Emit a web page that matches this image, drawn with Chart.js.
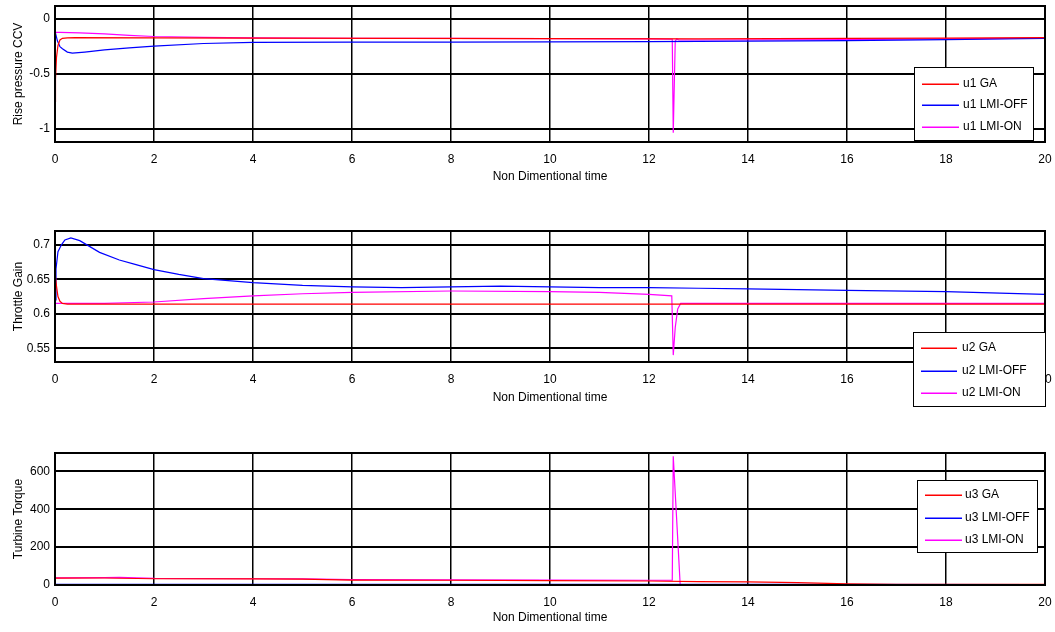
<!DOCTYPE html>
<html>
<head>
<meta charset="utf-8">
<script src="https://cdn.jsdelivr.net/npm/chart.js@4.4.1/dist/chart.umd.min.js"></script>
<style>
  body { margin: 0; background: #fff; }
  canvas { position: absolute; left: 0; }
</style>
</head>
<body>
<canvas id="c1" width="1055" height="190" style="top:0px"></canvas>
<canvas id="c2" width="1055" height="221" style="top:190px"></canvas>
<canvas id="c3" width="1055" height="220" style="top:411px"></canvas>
<script>
// axis ticks
const xTicks = [0, 2, 4, 6, 8, 10, 12, 14, 16, 18, 20];
const yTicks1 = [-1, -0.5, 0];
const yTicks2 = [0.55, 0.6, 0.65, 0.7];
const yTicks3 = [0, 200, 400, 600];
const xTitle = 'Non Dimentional time';

// u1 - rise pressure
const u1GA_t = [0, 0.01, 0.03, 0.06, 0.1, 0.15, 0.25, 0.4, 2, 4, 7, 10, 13, 16, 18, 20];
const u1GA_v = [-0.75, -0.55, -0.35, -0.24, -0.19, -0.175, -0.17, -0.168, -0.17, -0.172, -0.176, -0.178, -0.18, -0.176, -0.172, -0.168];
const u1OFF_t = [0, 0.05, 0.1, 0.15, 0.25, 0.35, 0.6, 1, 1.5, 2, 3, 4, 6, 8, 10, 12, 14, 16, 18, 20];
const u1OFF_v = [-0.11, -0.2, -0.25, -0.27, -0.3, -0.31, -0.3, -0.28, -0.262, -0.245, -0.222, -0.212, -0.21, -0.21, -0.208, -0.205, -0.2, -0.195, -0.186, -0.175];
const u1ON_t = [0, 0.004, 0.1, 0.5, 1, 1.5, 2, 3, 4, 6, 8, 10, 12, 12.47, 12.49, 12.53, 12.56, 12.6, 13, 16, 18, 20];
const u1ON_v = [0, -0.12, -0.12, -0.125, -0.135, -0.148, -0.158, -0.166, -0.17, -0.174, -0.176, -0.178, -0.18, -0.183, -1.035, -0.2, -0.18, -0.19, -0.19, -0.186, -0.18, -0.172];

// u2 - throttle gain
const u2GA_t = [0, 0.03, 0.06, 0.1, 0.15, 0.25, 2, 6, 10, 14, 20];
const u2GA_v = [0.66, 0.64, 0.625, 0.618, 0.615, 0.614, 0.614, 0.614, 0.614, 0.614, 0.614];
const u2OFF_t = [0, 0.02, 0.06, 0.13, 0.2, 0.32, 0.5, 0.9, 1.3, 1.6, 2, 2.5, 3, 4, 5, 6, 7, 8, 9, 10, 11, 12, 13, 14, 16, 18, 20];
const u2OFF_v = [0.62, 0.665, 0.69, 0.70, 0.707, 0.71, 0.706, 0.689, 0.678, 0.672, 0.664, 0.657, 0.651, 0.645, 0.641, 0.639, 0.638, 0.639, 0.64, 0.639, 0.638, 0.638, 0.637, 0.636, 0.634, 0.632, 0.628];
const u2ON_t = [0, 1, 2, 3, 4, 5, 6, 8, 10, 11, 12, 12.46, 12.49, 12.53, 12.58, 12.64, 16, 20];
const u2ON_v = [0.615, 0.615, 0.617, 0.622, 0.626, 0.629, 0.631, 0.633, 0.632, 0.631, 0.628, 0.626, 0.54, 0.58, 0.607, 0.615, 0.615, 0.615];

// u3 - turbine torque
const u3GA_t = [0, 1, 2, 4, 5, 6, 8, 10, 12, 13, 14, 15, 16, 17, 20];
const u3GA_v = [36, 37, 33, 32, 31, 26, 25, 23, 21, 18, 16, 13, 6, 4, 3];
const u3OFF_t = [0, 5, 10, 15, 20];
const u3OFF_v = [4, 4, 3, 3, 2];
const u3ON_t = [0, 1, 1.3, 2, 4, 5, 6, 8, 10, 12, 12.47, 12.49, 12.63, 13, 16, 20];
const u3ON_v = [38, 39, 40, 35, 33, 32, 28, 27, 26, 25, 25, 680, 2, 2, 2, 2];

const RED = '#ff0000', BLUE = '#0000ff', MAG = '#ff00ff';
const FONT = { family: "'Liberation Sans', Arial, sans-serif", size: 12 };

function pts(t, v) {
  return t.map((x, i) => ({ x: x, y: v[i] }));
}

// frame round the plot area and a boxed legend inside it
const boxLegend = {
  id: 'boxLegend',
  afterDatasetsDraw(chart, args, opts) {
    const ctx = chart.ctx;
    const a = chart.chartArea;
    ctx.save();
    ctx.strokeStyle = '#000';
    ctx.lineWidth = 2;
    ctx.strokeRect(a.left, a.top, a.right - a.left, a.bottom - a.top);

    ctx.fillStyle = '#fff';
    ctx.fillRect(opts.x, opts.y, opts.w, opts.h);
    ctx.lineWidth = 1;
    ctx.strokeRect(opts.x + 0.5, opts.y + 0.5, opts.w, opts.h);
    ctx.font = '12px ' + FONT.family;
    ctx.textBaseline = 'middle';
    chart.data.datasets.forEach((ds, i) => {
      const y = opts.y + opts.rows[i];
      ctx.fillStyle = ds.borderColor;
      ctx.fillRect(opts.x + opts.l0, y - 0.5, opts.l1 - opts.l0, 1.5);
      ctx.fillStyle = '#000';
      ctx.fillText(ds.label, opts.x + opts.tx, y);
    });
    ctx.restore();
  }
};

function makeChart(id, h, top, bottom, yMin, yMax, yTicks, yTitle, sets, legend) {
  new Chart(document.getElementById(id), {
    type: 'line',
    data: {
      datasets: sets.map(s => ({
        label: s.label,
        data: s.data,
        borderColor: s.color,
        borderWidth: 1.2,
        pointRadius: 0,
        tension: 0,
        fill: false
      }))
    },
    options: {
      responsive: false,
      animation: false,
      layout: { padding: { top: top, right: 10, bottom: 0, left: 0 } },
      plugins: { legend: { display: false }, tooltip: { enabled: false }, boxLegend: legend },
      scales: {
        x: {
          type: 'linear',
          min: 0, max: 20,
          afterBuildTicks: s => { s.ticks = xTicks.map(v => ({ value: v })); },
          afterFit: s => { s.height = h - bottom; s.paddingLeft = 0; s.paddingRight = 0; },
          ticks: { font: FONT, color: '#000', padding: 10, maxRotation: 0, callback: v => String(v) },
          grid: { color: '#000', lineWidth: 1.5, drawTicks: false },
          border: { display: false },
          title: { display: true, text: xTitle, font: FONT, color: '#000', padding: { top: 0, bottom: 6 } }
        },
        y: {
          min: yMin, max: yMax,
          afterBuildTicks: s => { s.ticks = yTicks.map(v => ({ value: v })); },
          afterFit: s => { s.width = 55; s.paddingTop = 0; s.paddingBottom = 0; },
          ticks: { font: FONT, color: '#000', padding: 5, callback: v => String(v) },
          grid: { color: '#000', lineWidth: 2, drawTicks: false },
          border: { display: false },
          title: { display: true, text: yTitle, font: FONT, color: '#000', padding: { top: 11, bottom: 0 } }
        }
      }
    },
    plugins: [boxLegend]
  });
}

makeChart('c1', 190, 6, 142, -1.12, 0.12, yTicks1, 'Rise pressure CCV', [
  { label: 'u1 GA', color: RED, data: pts(u1GA_t, u1GA_v) },
  { label: 'u1 LMI-OFF', color: BLUE, data: pts(u1OFF_t, u1OFF_v) },
  { label: 'u1 LMI-ON', color: MAG, data: pts(u1ON_t, u1ON_v) }
], { x: 914, y: 67, w: 119, h: 73, rows: [17, 38, 60], l0: 8, l1: 45, tx: 49 });

makeChart('c2', 221, 41, 172, 0.53, 0.72, yTicks2, 'Throttle Gain', [
  { label: 'u2 GA', color: RED, data: pts(u2GA_t, u2GA_v) },
  { label: 'u2 LMI-OFF', color: BLUE, data: pts(u2OFF_t, u2OFF_v) },
  { label: 'u2 LMI-ON', color: MAG, data: pts(u2ON_t, u2ON_v) }
], { x: 913, y: 142, w: 132, h: 74, rows: [16, 39, 61], l0: 8, l1: 44, tx: 49 });

makeChart('c3', 220, 42, 174, 0, 697, yTicks3, 'Turbine Torque', [
  { label: 'u3 GA', color: RED, data: pts(u3GA_t, u3GA_v) },
  { label: 'u3 LMI-OFF', color: BLUE, data: pts(u3OFF_t, u3OFF_v) },
  { label: 'u3 LMI-ON', color: MAG, data: pts(u3ON_t, u3ON_v) }
], { x: 917, y: 69, w: 120, h: 72, rows: [15, 38, 60], l0: 8, l1: 45, tx: 48 });
</script>
</body>
</html>
